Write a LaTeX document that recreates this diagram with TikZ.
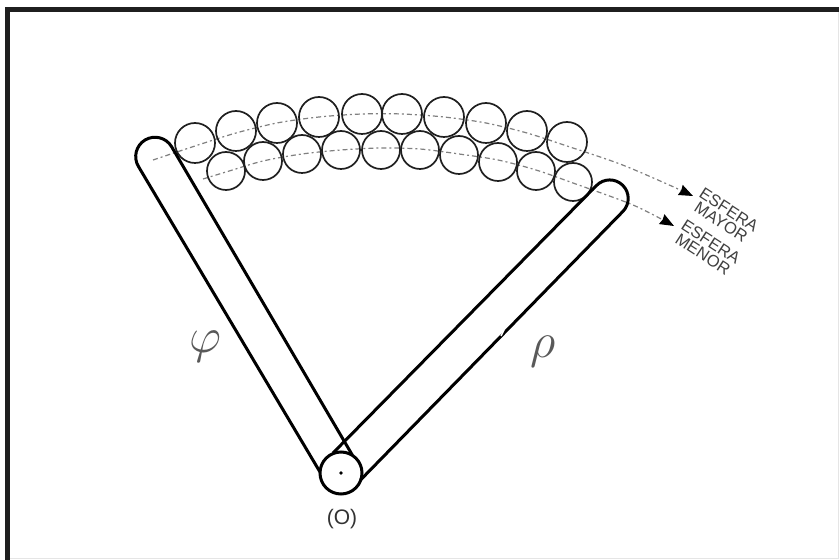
\documentclass[tikz,border=0pt]{standalone}
\usepackage{fontspec}
\setsansfont{Liberation Sans}
\usetikzlibrary{arrows.meta}
\definecolor{inkgray}{gray}{0.12}
\tikzset{
    ball/.style={draw=inkgray, line width=1.7pt},
    bar/.style={draw=black, line width=3pt, line join=round},
    axis/.style={draw=black!50, line width=1.2pt, dash pattern=on 5pt off 3pt on 2pt off 3pt},
    tip/.style={-{Stealth[length=14pt,width=11pt,inset=1pt,black,fill=black]}},
    tag/.style={font=\sffamily\fontsize{16.5}{14.5}\selectfont, text=black!75, align=center, rotate=-33},
    greek/.style={text=black!65, scale=2}
}
\begin{document}
\begin{tikzpicture}[x=1pt,y=1pt]
    \useasboundingbox (0,0) rectangle (839,560);
    \fill[white] (0,0) rectangle (839,560);
    \draw[line width=0.8pt, black!10] (7.5,1.5) -- (838,1.5) -- (838,550.5);
    \draw[line width=5pt, inkgray] (7.5,0) -- (7.5,550) -- (839,550);

    % two dotted spheres
    \coordinate (mayorstart) at (153,400);
    \coordinate (mayorend) at (693,364);
    \coordinate (menorstart) at (203,381);
    \coordinate (menorend) at (674,334);
    \draw[axis, tip] plot[smooth] coordinates {(mayorstart) (195,414) (236,427) (277,437) (319,443) (362,446) (402,446) (444,443) (486,437) (527,427) (567,414) (620,396) (667,376) (mayorend)};
    \draw[axis, tip] plot[smooth] coordinates {(menorstart) (226,388) (263,399) (302,406) (341,410) (381,412) (420,411) (459,406) (498,400) (536,390) (573,377) (633,355) (menorend)};

    % balls
    \foreach \bx/\by in {195/417, 236/429, 277/437, 319/443, 362/446, 402/446, 444/443, 486/437, 527/429, 567/418}
        \draw[ball] (\bx,\by) circle (20);
    \foreach \bx/\by in {226/389, 263/399, 302/406, 341/410, 381/410, 420/410, 459/405, 498/398, 536/389, 573/378}
        \draw[ball] (\bx,\by) circle (19);

    % left bar
    \draw[bar] (320,88) -- (138.4,393.6) arc (210.7:30.7:19.3) -- (352.3,105);
    % right bar
    \draw[bar] (333,107) -- (596.5,374.5) arc (135.6:-44.4:18.5) -- (360.5,80);
    \draw[white, line width=1.5pt] (501,224) -- (504,230);

    % pivot
    \coordinate (pivot) at (341,87);
    \draw[line width=3pt] (pivot) circle (21);
    \fill (pivot) circle (1.8);
    \node[font=\sffamily\fontsize{21}{21}\selectfont, text=black!80] (origin) at (342,41) {(O)};

    \node[greek] (phi) at (205,213) {\Huge $\varphi$};
    \node[greek] (rho) at (543,208) {\Huge $\rho$};

    \node[tag] (mayor) at (725,344) {ESFERA\\MAYOR};
    \node[tag] (menor) at (707,312) {ESFERA\\MENOR};
\end{tikzpicture}
\end{document}
